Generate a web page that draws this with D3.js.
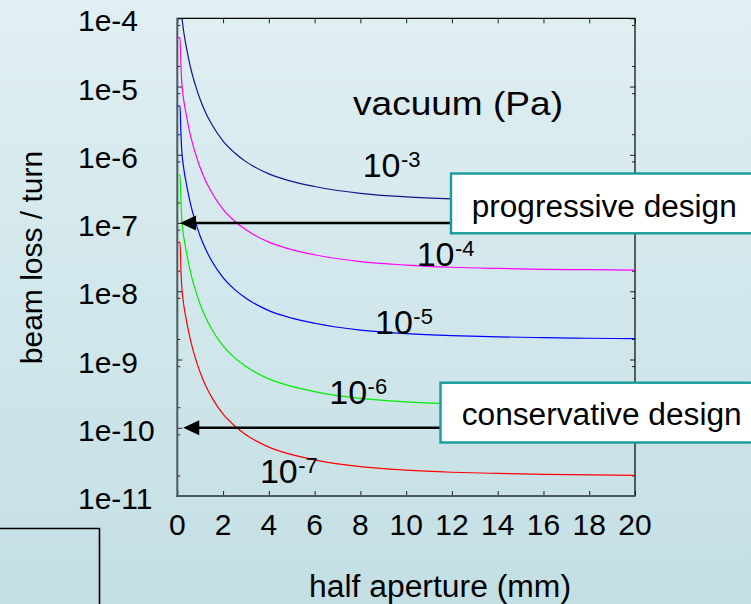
<!DOCTYPE html>
<html><head><meta charset="utf-8">
<script src="https://cdn.jsdelivr.net/npm/d3@7/dist/d3.min.js"></script>
<style>
html,body{margin:0;padding:0;}
body{width:751px;height:604px;overflow:hidden;}
text{font-family:"Liberation Sans",Arial,sans-serif;fill:#000;}
</style></head>
<body>
<svg id="c" width="751" height="604"></svg>
<script>
// ---- data ----
const xTickValues = [0,2,4,6,8,10,12,14,16,18,20];
const yTickValues = [1e-4,1e-5,1e-6,1e-7,1e-8,1e-9,1e-10,1e-11];
const yTickLabels = ["1e-4","1e-5","1e-6","1e-7","1e-8","1e-9","1e-10","1e-11"];
const seriesNames = ["1e-3","1e-4","1e-5","1e-6","1e-7"];
const seriesColors = ["#15158c","#ff00ff","#0000ff","#00ee00","#ff0000"];

// half aperture (mm) sample positions
const apertureMm = [0,0.118,0.16,0.2,0.25,0.3,0.4,0.5,0.6,0.8,1.0,1.25,1.5,2,2.5,3,4,5,6,8,10,12,14,16,18,20];

const lossP3 = [5.19e-4,5.19e-4,1.995e-4,1.096e-4,7.59e-5,5.75e-5,3.72e-5,2.51e-5,1.778e-5,1.023e-5,6.46e-6,4.07e-6,2.82e-6,1.585e-6,1.072e-6,7.94e-7,5.25e-7,4.07e-7,3.43e-7,2.72e-7,2.415e-7,2.254e-7,2.163e-7,2.104e-7,2.065e-7,2.037e-7];
const lossP4 = [5.2e-5,5.2e-5,2.0e-5,1.1e-5,7.6e-6,5.75e-6,3.72e-6,2.51e-6,1.78e-6,1.02e-6,6.46e-7,4.07e-7,2.82e-7,1.585e-7,1.07e-7,7.94e-8,5.25e-8,4.07e-8,3.43e-8,2.72e-8,2.42e-8,2.25e-8,2.16e-8,2.10e-8,2.07e-8,2.04e-8];
const lossP5 = [5.19e-6,5.19e-6,1.99e-6,1.09e-6,7.55e-7,5.72e-7,3.7e-7,2.5e-7,1.77e-7,1.02e-7,6.4e-8,4.05e-8,2.8e-8,1.58e-8,1.065e-8,7.9e-9,5.2e-9,4.04e-9,3.4e-9,2.7e-9,2.4e-9,2.24e-9,2.15e-9,2.09e-9,2.05e-9,2.02e-9];
const lossP6 = [5.06e-7,5.06e-7,1.98e-7,1.09e-7,7.55e-8,5.72e-8,3.7e-8,2.5e-8,1.77e-8,1.02e-8,6.4e-9,4.05e-9,2.8e-9,1.58e-9,1.065e-9,7.9e-10,5.2e-10,4.03e-10,3.39e-10,2.69e-10,2.39e-10,2.23e-10,2.14e-10,2.08e-10,2.04e-10,2.01e-10];
const lossP7 = [5.21e-8,5.21e-8,2.0e-8,1.1e-8,7.6e-9,5.75e-9,3.72e-9,2.51e-9,1.78e-9,1.02e-9,6.45e-10,4.06e-10,2.81e-10,1.58e-10,1.07e-10,7.9e-11,5.2e-11,4.03e-11,3.39e-11,2.69e-11,2.39e-11,2.23e-11,2.14e-11,2.08e-11,2.04e-11,2.01e-11];
const seriesY = [lossP3,lossP4,lossP5,lossP6,lossP7];

const curveLabelMain = ["10","10","10","10","10"];
const curveLabelSup = ["-3","-4","-5","-6","-7"];
const curveLabelX = [8.10, 10.46, 8.64, 6.64, 3.61];   // mm
const curveLabelY = [4.77e-7, 2.31e-8, 2.37e-9, 2.23e-10, 1.53e-11];

const arrowLevels = [1e-7, 1e-10];
const arrowTipX = [0.12, 0.26];
const boxTexts = ["progressive design","conservative design"];

// ---- layout ----
const svg = d3.select("#c");
const L=177.3, R=635, T=18.3, B=496;
const x = d3.scaleLinear().domain([0,20]).range([L,R]);
const y = d3.scaleLog().domain([1e-11,1e-4]).range([B,T]);

const defs = svg.append("defs");
const g = defs.append("linearGradient").attr("id","bg").attr("x1",0).attr("y1",0).attr("x2",0).attr("y2",1);
g.append("stop").attr("offset","0%").attr("stop-color","#e0eff2");
g.append("stop").attr("offset","100%").attr("stop-color","#c3dfe4");
svg.append("rect").attr("width",751).attr("height",604).attr("fill","url(#bg)");
defs.append("clipPath").attr("id","clip").append("rect").attr("x",L).attr("y",T).attr("width",R-L).attr("height",B-T);

// bottom-left decorative box
svg.append("path").attr("d","M0,528.5 H99.5 V606").attr("fill","none").attr("stroke","#000").attr("stroke-width",1.6);

// axes ticks
const ax = svg.append("g");
function clean(s){ s.select(".domain").remove(); s.selectAll("line").attr("stroke","#222"); }
ax.append("g").attr("transform",`translate(0,${B})`)
  .call(d3.axisBottom(x).tickValues(xTickValues).tickSize(-5).tickFormat("")).call(clean);
ax.append("g").attr("transform",`translate(0,${T})`)
  .call(d3.axisTop(x).tickValues(xTickValues).tickSize(-5).tickFormat("")).call(clean);
ax.append("g").attr("transform",`translate(${L},0)`)
  .call(d3.axisLeft(y).tickValues(yTickValues).tickSize(-5).tickFormat("")).call(clean);
ax.append("g").attr("transform",`translate(${R},0)`)
  .call(d3.axisRight(y).tickValues(yTickValues).tickSize(-5).tickFormat("")).call(clean);
const minorVals = [];
for (let e=-11;e<-4;e++){ minorVals.push(2*Math.pow(10,e)); minorVals.push(8*Math.pow(10,e)); }
ax.append("g").attr("transform",`translate(${L},0)`)
  .call(d3.axisLeft(y).tickValues(minorVals).tickSize(-3).tickFormat("")).call(clean);
ax.append("g").attr("transform",`translate(${R},0)`)
  .call(d3.axisRight(y).tickValues(minorVals).tickSize(-3).tickFormat("")).call(clean);

// frame
svg.append("line").attr("x1",L).attr("x2",R).attr("y1",T).attr("y2",T).attr("stroke","#000").attr("stroke-width",1.2);
svg.append("line").attr("x1",R).attr("x2",R).attr("y1",T).attr("y2",B).attr("stroke","#000").attr("stroke-width",1.2);
svg.append("line").attr("x1",L).attr("x2",L).attr("y1",T-0.6).attr("y2",B+1).attr("stroke","#4e5a5e").attr("stroke-width",2);
svg.append("line").attr("x1",L-1).attr("x2",R+0.6).attr("y1",B).attr("y2",B).attr("stroke","#4e5a5e").attr("stroke-width",2);

// tick labels
svg.append("g").selectAll("text").data(yTickValues).join("text")
  .attr("x",78).attr("y",d=>y(d)+13).attr("font-size",30)
  .text((d,i)=>yTickLabels[i]);
svg.append("g").selectAll("text").data(xTickValues).join("text")
  .attr("x",d=>x(d)).attr("y",535).attr("text-anchor","middle").attr("font-size",30)
  .text(d=>d);

// axis titles
svg.append("text").attr("transform","translate(41.5,257.5) rotate(-90)").attr("text-anchor","middle")
  .attr("font-size",30).text("beam loss / turn");
svg.append("text").attr("x",309).attr("y",597).attr("font-size",31)
  .attr("textLength",262).attr("lengthAdjust","spacingAndGlyphs").text("half aperture (mm)");

// curves
const line = d3.line().x(d=>x(d[0])).y(d=>y(d[1])).curve(d3.curveMonotoneX);
const cg = svg.append("g").attr("clip-path","url(#clip)");
seriesY.forEach((ys,i)=>{
  const pts = apertureMm.map((v,j)=>[v, ys[j]]);
  cg.append("path").datum(pts).attr("d",line).attr("fill","none")
    .attr("stroke",seriesColors[i]).attr("stroke-width",1.2);
});

// curve labels
seriesNames.forEach((n,i)=>{
  const t = svg.append("text").attr("x",x(curveLabelX[i])).attr("y",y(curveLabelY[i])).attr("font-size",34);
  t.append("tspan").text(curveLabelMain[i]);
  t.append("tspan").attr("font-size",22).attr("dy",-10).attr("dx",0.5).text(curveLabelSup[i]);
});
svg.append("text").attr("x",353).attr("y",115).attr("font-size",33)
  .attr("textLength",210).attr("lengthAdjust","spacingAndGlyphs").text("vacuum (Pa)");

// arrows and boxes
const boxes = [
  {x0:451, y0:173.5, y1:233.3, tx:471.7, ty:216.7, tl:265},
  {x0:440.5, y0:382.7, y1:442.5, tx:461.7, ty:425.3, tl:280}
];
arrowLevels.forEach((lv,i)=>{
  const yy = y(lv), tip = x(arrowTipX[i]), base = tip+16;
  svg.append("line").attr("x1",base-1).attr("x2",boxes[i].x0).attr("y1",yy).attr("y2",yy)
    .attr("stroke","#000").attr("stroke-width",2.4);
  svg.append("path").attr("d",`M${tip},${yy} L${base},${yy-7.5} L${base},${yy+7.5} Z`).attr("fill","#000");
});
boxes.forEach((b,i)=>{
  svg.append("rect").attr("x",b.x0).attr("y",b.y0).attr("width",760-b.x0).attr("height",b.y1-b.y0)
    .attr("fill","#fff").attr("stroke","#169b9b").attr("stroke-width",2.4);
  svg.append("text").attr("x",b.tx).attr("y",b.ty).attr("font-size",31)
    .attr("textLength",b.tl).attr("lengthAdjust","spacingAndGlyphs").text(boxTexts[i]);
});
</script>
</body></html>
